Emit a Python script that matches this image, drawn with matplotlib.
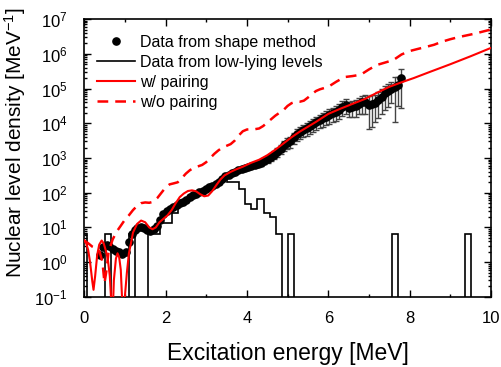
import numpy as np
import matplotlib
matplotlib.use("Agg")
import matplotlib.pyplot as plt
from matplotlib.ticker import MultipleLocator, LogLocator, NullFormatter

plt.rcParams['font.family'] = ['Liberation Sans', 'DejaVu Sans']
plt.rcParams['mathtext.fontset'] = 'custom'
plt.rcParams['mathtext.rm'] = 'Liberation Sans'
plt.rcParams['mathtext.it'] = 'Liberation Sans:italic'

# shape-method data: energy [MeV], level density [1/MeV], relative error
shape_E = [0.39, 0.47, 0.55, 0.62, 0.70, 0.78, 0.86, 0.94, 1.02, 1.10,
           1.17, 1.24, 1.31, 1.39, 1.47, 1.55, 1.63, 1.71, 1.79, 1.87,
           1.95, 2.03, 2.11, 2.19, 2.27, 2.35, 2.43, 2.51, 2.59, 2.67,
           2.75, 2.83, 2.91, 2.99, 3.07, 3.15, 3.23, 3.31, 3.39, 3.47,
           3.55, 3.63, 3.71, 3.79, 3.87, 3.95, 4.03, 4.11, 4.19, 4.27,
           4.35, 4.43, 4.51, 4.59, 4.67, 4.75, 4.83, 4.91, 4.99, 5.07,
           5.15, 5.23, 5.31, 5.39, 5.47, 5.55, 5.63, 5.71, 5.79, 5.87,
           5.95, 6.03, 6.11, 6.19, 6.27, 6.35, 6.43, 6.51, 6.59, 6.67,
           6.75, 6.83, 6.91, 6.99, 7.07, 7.15, 7.23, 7.31, 7.39, 7.47,
           7.55, 7.63, 7.71, 7.78]
shape_rho = [1.6, 2.8, 3.2, 3.0, 2.4, 2.1, 1.9, 1.7, 2.0, 3.8,
             6.3, 8.5, 9.5, 10.5, 9.5, 8.5, 8.0, 8.9, 11.2, 16.6,
             24.0, 30.0, 34.0, 38.0, 43.5, 49.0, 55.0, 63.0, 74.0, 85.0,
             93.0, 102.0, 115.0, 129.0, 145.0, 158.0, 178.0, 204.0, 251.0, 295.0,
             331.0, 372.0, 407.0, 437.0, 479.0, 513.0, 550.0, 589.0, 631.0, 676.0,
             741.0, 813.0, 912.0, 1050.0, 1230.0, 1480.0, 1820.0, 2290.0, 2750.0, 3020.0,
             3980.0, 5010.0, 5750.0, 6310.0, 7080.0, 8320.0, 9550.0, 11000.0, 12300.0, 13800.0,
             15500.0, 17400.0, 19500.0, 21400.0, 24000.0, 29500.0, 33900.0, 27500.0, 28800.0, 30900.0,
             36300.0, 39800.0, 41700.0, 33900.0, 35500.0, 38000.0, 47900.0, 56200.0, 72400.0, 83200.0,
             95500.0, 112000.0, 126000.0, 195000.0]
shape_relerr = [0.05, 0.05, 0.05, 0.05, 0.05, 0.05, 0.05, 0.05, 0.05, 0.05,
                0.05, 0.05, 0.05, 0.05, 0.05, 0.05, 0.05, 0.05, 0.05, 0.05,
                0.05, 0.05, 0.05, 0.05, 0.05, 0.05, 0.05, 0.05, 0.05, 0.05,
                0.06, 0.06, 0.06, 0.06, 0.07, 0.07, 0.08, 0.08, 0.08, 0.08,
                0.09, 0.09, 0.10, 0.10, 0.11, 0.12, 0.13, 0.14, 0.15, 0.16,
                0.18, 0.20, 0.22, 0.24, 0.26, 0.28, 0.30, 0.32, 0.34, 0.36,
                0.36, 0.38, 0.38, 0.38, 0.40, 0.40, 0.40, 0.42, 0.42, 0.42,
                0.42, 0.44, 0.44, 0.44, 0.45, 0.45, 0.45, 0.46, 0.48, 0.50,
                0.50, 0.52, 0.55, 0.80, 0.78, 0.72, 0.70, 0.68, 0.66, 0.64,
                0.60, 0.90, 0.75, 0.86]

# low-lying levels: histogram bin edges start at -0.09, width 0.15 MeV
bin_start = -0.09
bin_width = 0.15
level_counts = [1, 0, 0, 0, 1, 0, 0, 0, 1, 0,
                0, 1, 1, 2, 2, 4, 7, 10, 13, 15,
                19, 23, 29, 43, 31, 31, 19, 7, 5, 10,
                4, 3, 1, 0, 1, 0, 0, 0, 0, 0,
                0, 0, 0, 0, 0, 0, 0, 0, 0, 0,
                0, 1, 0, 0, 0, 0, 0, 0, 0, 0,
                0, 0, 0, 1, 0, 0, 0, 0]

# calculation with pairing
pair_E = [0.00, 0.05, 0.10, 0.15, 0.20, 0.23, 0.27, 0.32, 0.37, 0.43,
          0.48, 0.53, 0.58, 0.63, 0.67, 0.70, 0.73, 0.78, 0.82, 0.86,
          0.90, 0.95, 1.00, 1.05, 1.10, 1.15, 1.20, 1.30, 1.40, 1.50,
          1.60, 1.68, 1.76, 1.85, 1.95, 2.05, 2.15, 2.25, 2.35, 2.45,
          2.55, 2.65, 2.75, 2.85, 2.95, 3.05, 3.15, 3.25, 3.35, 3.45,
          3.60, 3.75, 3.90, 4.10, 4.30, 4.50, 4.70, 4.90, 5.10, 5.30,
          5.50, 5.70, 6.00, 6.30, 6.60, 6.90, 7.20, 7.50, 7.80, 8.10,
          8.50, 9.00, 9.50, 10.0]
pair_rho = [4.2, 3.5, 2.2, 0.9, 0.28, 0.16, 0.4, 1.6, 3.2, 4.2,
            3.5, 2.2, 1.26, 0.4, 0.06, 0.03, 0.3, 1.26, 1.8, 1.4,
            0.6, 0.03, 0.1, 0.5, 1.8, 3.5, 7.1, 12.6, 15.8, 14.1,
            10.0, 8.9, 10.0, 14.1, 17.8, 22.4, 31.6, 50.0, 75.0, 95.0,
            112.0, 117.0, 110.0, 91.0, 79.0, 83.0, 112.0, 166.0, 240.0, 316.0,
            398.0, 479.0, 562.0, 724.0, 891.0, 1200.0, 1740.0, 2630.0, 3980.0, 5750.0,
            7940.0, 11000.0, 18600.0, 26300.0, 36300.0, 50100.0, 75900.0, 112000.0, 151000.0, 200000.0,
            302000.0, 501000.0, 851000.0, 1480000.0]

# calculation without pairing
nopair_E = [0.00, 0.10, 0.20, 0.30, 0.38, 0.45, 0.50, 0.55, 0.60, 0.70,
            0.80, 0.90, 1.00, 1.10, 1.20, 1.30, 1.40, 1.50, 1.60, 1.70,
            1.80, 1.90, 2.00, 2.10, 2.20, 2.30, 2.40, 2.50, 2.60, 2.70,
            2.80, 2.90, 3.00, 3.10, 3.20, 3.30, 3.40, 3.50, 3.60, 3.70,
            3.80, 3.90, 4.00, 4.10, 4.20, 4.30, 4.40, 4.50, 4.60, 4.70,
            4.80, 4.90, 5.00, 5.10, 5.20, 5.30, 5.40, 5.50, 5.60, 5.70,
            5.80, 6.00, 6.20, 6.40, 6.60, 6.80, 7.00, 7.20, 7.40, 7.60,
            7.80, 8.00, 8.20, 8.40, 8.60, 8.80, 9.00, 9.20, 9.40, 9.60,
            9.80, 10.0]
nopair_rho = [4.2, 3.5, 2.8, 2.5, 2.0, 1.0, 0.25, 0.6, 2.0, 4.5,
              7.6, 11.2, 16.6, 22.4, 31.6, 41.7, 50.1, 52.5, 51.3, 55.0,
              70.8, 100.0, 141.0, 174.0, 186.0, 200.0, 263.0, 355.0, 447.0, 525.0,
              575.0, 631.0, 759.0, 1000.0, 1320.0, 1660.0, 2000.0, 2240.0, 2510.0, 3160.0,
              4470.0, 5890.0, 6610.0, 6760.0, 6760.0, 7080.0, 8320.0, 10500.0, 13200.0, 16600.0,
              20000.0, 24000.0, 31600.0, 38000.0, 41700.0, 41700.0, 44700.0, 55000.0, 69200.0, 85100.0,
              95500.0, 112000.0, 158000.0, 214000.0, 229000.0, 251000.0, 355000.0, 479000.0, 562000.0, 661000.0,
              955000.0, 1200000.0, 1380000.0, 1580000.0, 1820000.0, 2240000.0, 2630000.0, 3020000.0, 3390000.0, 3800000.0,
              4370000.0, 5010000.0]

fig = plt.figure(figsize=(5.01, 3.67), dpi=100)
ax = fig.add_axes([0.168, 0.191, 0.812, 0.757])

edges = bin_start + bin_width * np.arange(len(level_counts) + 1)
hist_vals = np.array(level_counts) / bin_width
hist_vals = np.where(hist_vals > 0, hist_vals, 1e-4)
ax.stairs(hist_vals, edges, color='black', lw=1.2, zorder=2,
          label='Data from low-lying levels')

rho = np.array(shape_rho)
err = rho * np.array(shape_relerr)
ax.errorbar(shape_E, rho, yerr=err, fmt='none', ecolor='#444444',
            elinewidth=1.0, capsize=2.5, capthick=1.0, zorder=3)
ax.plot(shape_E, rho, 'o', color='black', ms=5.2, zorder=4,
        label='Data from shape method')

ax.plot(pair_E, pair_rho, color='#ff0000', lw=1.5, zorder=5, label='w/ pairing')
ax.plot(nopair_E, nopair_rho, color='#ff0000', lw=1.8, dashes=(4.3, 2.8),
        zorder=5, label='w/o pairing')

ax.set_xlim(0, 10)
ax.set_yscale('log')
ax.set_ylim(0.1, 1e7)
ax.xaxis.set_major_locator(MultipleLocator(2))
ax.xaxis.set_minor_locator(MultipleLocator(1))
ax.yaxis.set_major_locator(LogLocator(base=10, numticks=20))
ax.yaxis.set_minor_locator(LogLocator(base=10, subs=np.arange(2, 10), numticks=20))
ax.yaxis.set_minor_formatter(NullFormatter())
ax.tick_params(which='both', direction='in', top=True, right=True, width=1.0)
ax.tick_params(which='major', length=5, labelsize=12)
ax.tick_params(axis='x', which='major', pad=10)
ax.tick_params(axis='y', which='major', pad=12)
ax.tick_params(which='minor', length=2.5)
for sp in ax.spines.values():
    sp.set_linewidth(1.2)

ax.set_xlabel('Excitation energy [MeV]', fontsize=16.5)
ax.xaxis.set_label_coords(0.5, -0.163)
ax.set_ylabel('Nuclear level density [MeV$^{-1}$]', fontsize=15)
ax.yaxis.set_label_coords(-0.138, 0.557)

h, l = ax.get_legend_handles_labels()
order = [l.index('Data from shape method'), l.index('Data from low-lying levels'),
         l.index('w/ pairing'), l.index('w/o pairing')]
ax.legend([h[i] for i in order], [l[i] for i in order], loc='upper left',
          bbox_to_anchor=(0.0, 0.99), frameon=False, fontsize=11.5,
          handlelength=2.4, handletextpad=0.3, labelspacing=0.32,
          borderaxespad=0.4)

fig.savefig('out.png', dpi=100)
